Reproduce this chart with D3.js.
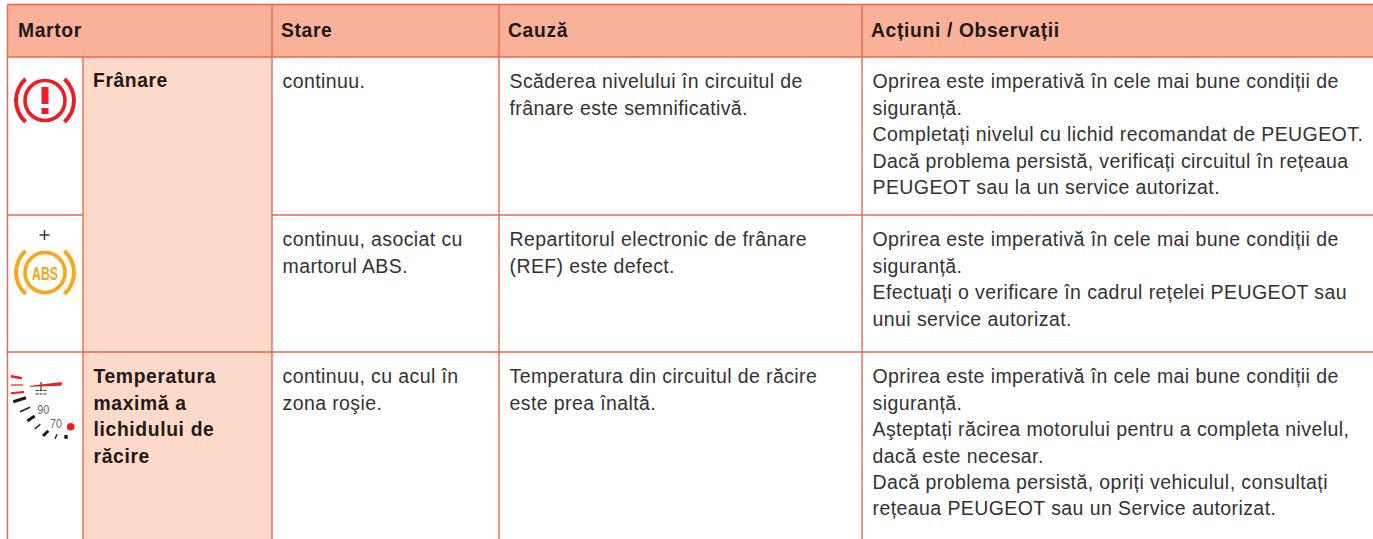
<!DOCTYPE html>
<html><head><meta charset="utf-8">
<script src="https://cdn.jsdelivr.net/npm/d3@7"></script>
<style>html,body{margin:0;padding:0;background:#fff;overflow:hidden}svg{display:block}
text{font-family:"Liberation Sans",Arial,sans-serif}</style></head><body>
<script>
const headers=["Martor","Stare","Cauză","Acțiuni / Observații"];
const names=[["Frânare"],["Temperatura","maximă a","lichidului de","răcire"]];
const states=[["continuu."],["continuu, asociat cu","martorul ABS."],["continuu, cu acul în","zona roşie."]];
const causes=[["Scăderea nivelului în circuitul de","frânare este semnificativă."],["Repartitorul electronic de frânare","(REF) este defect."],["Temperatura din circuitul de răcire","este prea înaltă."]];
const actions=[
["Oprirea este imperativă în cele mai bune condiții de","siguranță.","Completați nivelul cu lichid recomandat de PEUGEOT.","Dacă problema persistă, verificați circuitul în rețeaua","PEUGEOT sau la un service autorizat."],
["Oprirea este imperativă în cele mai bune condiții de","siguranță.","Efectuați o verificare în cadrul rețelei PEUGEOT sau","unui service autorizat."],
["Oprirea este imperativă în cele mai bune condiții de","siguranță.","Aşteptați răcirea motorului pentru a completa nivelul,","dacă este necesar.","Dacă problema persistă, opriți vehiculul, consultați","rețeaua PEUGEOT sau un Service autorizat."]];
const gaugeLabels=["90","70"];

const W=1373,H=539;
const X=[7.5,83,272,499,862,1373],Y=[4.5,57,215,352,539];
const LH=26.4,TXT="#333232",BOLD="#231815",LINE="#f3654a",HEAD="#f9b199",SIDE="#fdd9ca";
const svg=d3.select("body").append("svg").attr("width",W).attr("height",H);
const rect=(x,y,w,h,f)=>svg.append("rect").attr("x",x).attr("y",y).attr("width",w).attr("height",h).attr("fill",f);
const line=(a,b,c,d)=>svg.append("line").attr("x1",a).attr("y1",b).attr("x2",c).attr("y2",d).attr("stroke",LINE).attr("stroke-width",1.4);
rect(X[0],Y[0],W-X[0],Y[1]-Y[0],HEAD);
rect(X[1],Y[1],X[2]-X[1],H-Y[1],SIDE);
[Y[0],Y[1]].forEach(y=>line(X[0],y,W,y));
line(X[0],Y[2],X[1],Y[2]);
line(X[0],Y[3],W,Y[3]);
line(X[2],Y[2],W,Y[2]);
line(X[0],Y[0],X[0],H);line(X[1],Y[1],X[1],H);
X.slice(2,5).forEach(x=>line(x,Y[0],x,H));
function block(lines,x,y,weight,size,spacing,fill,lh){
  svg.append("g").selectAll("text").data(lines).join("text")
   .attr("x",x).attr("y",(d,i)=>y+i*(lh||LH)).attr("font-size",size).attr("font-weight",weight)
   .attr("letter-spacing",spacing).attr("fill",fill||TXT).text(d=>d);
}
[[18,0],[281,1],[508,2],[871,3]].forEach(([x,i])=>block([headers[i]],x,37,"bold",19.3,.65,BOLD));
block(names[0],93,87,"bold",19.3,.6,BOLD);
block(names[1],93.5,383,"bold",19.3,.65,BOLD,26.6);
const rowY=[88.3,246.3,383.3];
states.forEach((s,i)=>block(s,282.5,rowY[i],"normal",19.5,.4));
causes.forEach((s,i)=>block(s,509.5,rowY[i],"normal",19.5,.4));
actions.forEach((s,i)=>block(s,872.5,rowY[i],"normal",19.5,.42));

function brake(cx,cy,col){
  const g=svg.append("g").attr("transform",`translate(${cx},${cy})`);
  g.append("circle").attr("r",20).attr("fill","none").attr("stroke",col).attr("stroke-width",3.6);
  const a=d3.arc().innerRadius(27).outerRadius(31);
  const t=Math.PI/180;
  [[42*t,138*t],[-138*t,-42*t]].forEach(([s,e])=>g.append("path").attr("d",a({startAngle:s,endAngle:e})).attr("fill",col));
  return g;
}
const red=brake(45,100.5,"#ed1c24");
red.append("rect").attr("x",-3.5).attr("y",-13.5).attr("width",7).attr("height",17).attr("fill","#ed1c24");
red.append("rect").attr("x",-3.5).attr("y",7.5).attr("width",7).attr("height",6).attr("fill","#ed1c24");
const ab=brake(45,272.5,"#f9a61a");
ab.append("text").attr("text-anchor","middle").attr("y",7.5).attr("font-size",18).attr("font-weight","bold").attr("fill","#f9a61a").attr("textLength",26).attr("lengthAdjust","spacingAndGlyphs").text("ABS");
svg.append("path").attr("d","M39.5,235H49.5M44.5,230V240").attr("stroke","#333").attr("stroke-width",1.4).attr("fill","none");

// gauge
const gs=svg.append("g");
[[11,376.3,22,378.3,2.5,"#ed1c24"],[11,385,23,385,1.2,"#ed1c24"],[11,393.3,24,392,2,"#ed1c24"],
 [13.3,401.7,26,397.7,3,"#231815"],[20,411.7,30,407.3,1.5,"#231815"],[27.3,421,34.7,416,3,"#231815"],[34.7,429,40.3,424.3,1.5,"#231815"],
 [43,436,48.3,430.7,3,"#231815"],[55,438.7,57,434.3,1.5,"#231815"]]
 .forEach(t=>gs.append("line").attr("x1",t[0]).attr("y1",t[1]).attr("x2",t[2]).attr("y2",t[3]).attr("stroke-width",t[4]).attr("stroke",t[5]));
gs.append("rect").attr("x",64.3).attr("y",435).attr("width",3.4).attr("height",3.8).attr("fill","#231815");
gs.append("path").attr("d","M41,382V390").attr("stroke","#333").attr("stroke-width",1.2);
gs.append("path").attr("d","M35.5,390.5H47M35.5,394H47").attr("stroke","#333").attr("stroke-width",1).attr("stroke-dasharray","3 1");
gs.append("path").attr("d",d3.line()([[30,385.7],[62,382],[61.3,385.7],[30,386.7]])).attr("fill","#ed1c24");
gs.append("circle").attr("cx",70.7).attr("cy",426.7).attr("r",3.8).attr("fill","#ed1c24");
gs.selectAll("text").data(gaugeLabels).join("text").attr("x",(d,i)=>i?50:37.3).attr("y",(d,i)=>i?427.7:414.3)
  .attr("font-size",12.5).attr("fill","#666").attr("textLength",12).attr("lengthAdjust","spacingAndGlyphs").text(d=>d);
</script></body></html>
